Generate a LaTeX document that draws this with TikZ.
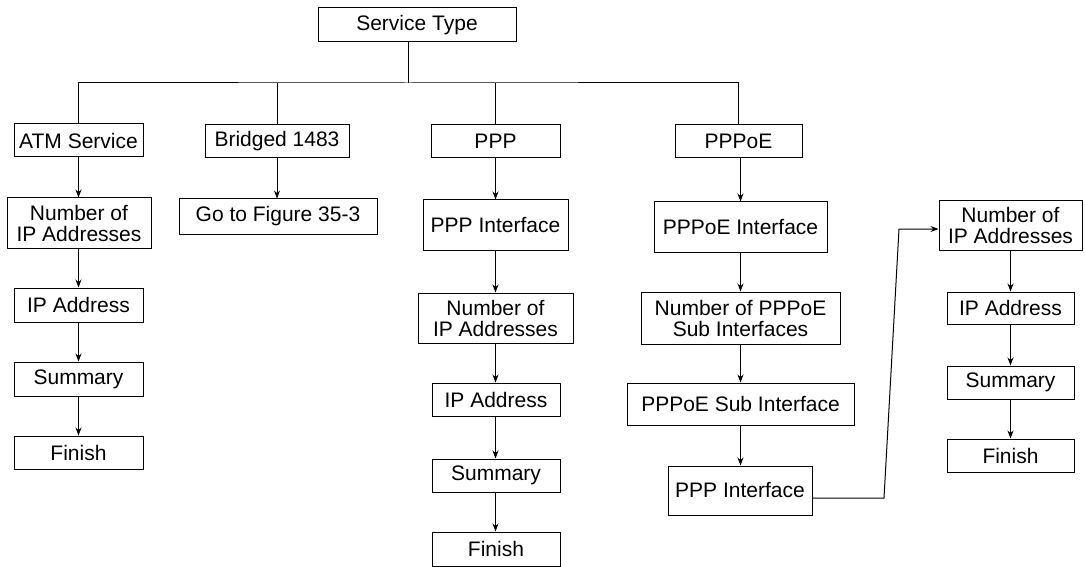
\documentclass[tikz,border=0pt]{standalone}
\usepackage{fontspec}
\setmainfont{Liberation Sans}
\usetikzlibrary{arrows.meta}
\begin{document}
\begin{tikzpicture}[x=1pt,y=-1pt,
  box/.style={draw, line width=1pt, inner sep=0pt, align=center,
    font=\fontsize{21}{21}\selectfont},
  link/.style={line width=1pt},
  arr/.style={line width=1pt, -{Stealth[length=8pt,width=6pt]}}]
\useasboundingbox (0,0) rectangle (1085,567);
% top
\node[box, minimum width=198pt, minimum height=34pt] (st) at (417,25) {Service Type};
\node[box, minimum width=129pt, minimum height=33pt] (atm) at (78.5,140.5) {ATM Service};
\node[box, minimum width=144pt, minimum height=33pt] (br) at (277,141.5) {Bridged 1483};
\node[box, minimum width=129pt, minimum height=33pt] (ppp) at (495.5,141.5) {PPP};
\node[box, minimum width=127pt, minimum height=33pt] (pppoe) at (738.5,141.5) {PPPoE};
% ATM column
\node[box, minimum width=144pt, minimum height=50pt] (nipa) at (79,223) {Number of\\IP Addresses};
\node[box, minimum width=129pt, minimum height=34pt] (ipa) at (78.5,305) {IP Address};
\node[box, minimum width=129pt, minimum height=34pt] (suma) at (78.5,379) {Summary};
\node[box, minimum width=129pt, minimum height=33pt] (fina) at (78.5,452.5) {Finish};
% Bridged
\node[box, minimum width=198pt, minimum height=35pt] (goto) at (278,216.5) {Go to Figure 35-3};
% PPP column
\node[box, minimum width=145pt, minimum height=50pt] (pint) at (495.5,225) {PPP Interface};
\node[box, minimum width=155pt, minimum height=50pt] (nipb) at (495.5,318) {Number of\\IP Addresses};
\node[box, minimum width=128pt, minimum height=33pt] (ipb) at (496,399.5) {IP Address};
\node[box, minimum width=128pt, minimum height=33pt] (sumb) at (496,475.5) {Summary};
\node[box, minimum width=128pt, minimum height=34pt] (finb) at (496,549) {Finish};
% PPPoE column
\node[box, minimum width=173pt, minimum height=50pt] (oeint) at (740.5,227) {PPPoE Interface};
\node[box, minimum width=199pt, minimum height=52pt] (nsub) at (740.5,318) {Number of PPPoE\\Sub Interfaces};
\node[box, minimum width=227pt, minimum height=42pt] (subint) at (740.5,404) {PPPoE Sub Interface};
\node[box, minimum width=144pt, minimum height=49pt] (pint2) at (740,490.5) {PPP Interface};
% right column
\node[box, minimum width=143pt, minimum height=49pt] (nipc) at (1010.5,225.5) {Number of\\IP Addresses};
\node[box, minimum width=127pt, minimum height=32pt] (ipc) at (1010.5,308) {IP Address};
\node[box, minimum width=127pt, minimum height=33pt] (sumc) at (1010.5,382.5) {Summary};
\node[box, minimum width=127pt, minimum height=33pt] (finc) at (1010.5,455.5) {Finish};
% bus
\coordinate (bus) at (408,83);
\coordinate (c1) at (884,498);
\coordinate (c2) at (899,229);
\draw[link] ([xshift=-9pt]st.south) -- (bus);
\draw[link] (atm.north) |- (bus) -| (pppoe.north);
\draw[link] (br.north) -- (br.north |- bus);
\draw[link] (ppp.north) -- (ppp.north |- bus);
% ATM arrows
\draw[arr] (atm.south) -- (atm.south |- nipa.north);
\draw[arr] (nipa.south -| atm.south) -- (atm.south |- ipa.north);
\draw[arr] (ipa.south -| atm.south) -- (atm.south |- suma.north);
\draw[arr] (suma.south -| atm.south) -- (atm.south |- fina.north);
% Bridged arrow
\draw[arr] (br.south) -- (br.south |- goto.north);
% PPP arrows
\draw[arr] (ppp.south) -- (ppp.south |- pint.north);
\draw[arr] (pint.south) -- (pint.south |- nipb.north);
\draw[arr] (nipb.south) -- (nipb.south |- ipb.north);
\draw[arr] (ipb.south -| nipb.south) -- (nipb.south |- sumb.north);
\draw[arr] (sumb.south -| nipb.south) -- (nipb.south |- finb.north);
% PPPoE arrows
\draw[arr] (pppoe.south -| oeint.north) -- (oeint.north);
\draw[arr] (oeint.south) -- (nsub.north);
\draw[arr] (nsub.south) -- (subint.north);
\draw[arr] (subint.south) -- (subint.south |- pint2.north);
% link to right column
\draw[arr] (pint2.east |- c1) -- (c1) -- (c2) -- (nipc.west |- c2);
% right arrows
\draw[arr] (nipc.south) -- (ipc.north);
\draw[arr] (ipc.south) -- (sumc.north);
\draw[arr] (sumc.south) -- (finc.north);
\end{tikzpicture}
\end{document}
